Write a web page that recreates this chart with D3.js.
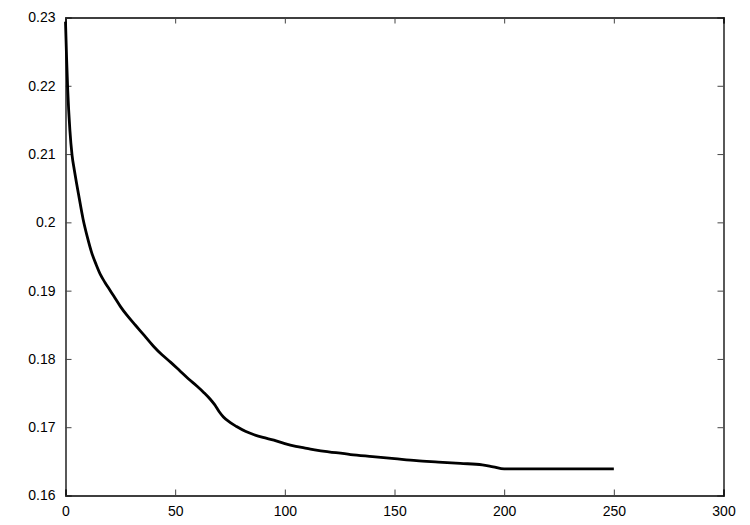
<!DOCTYPE html>
<html>
<head>
<meta charset="utf-8">
<script src="https://cdn.jsdelivr.net/npm/d3@7"></script>
<style>
  body { margin: 0; background: #fff; }
  text { font-family: "Liberation Sans", Arial, sans-serif; font-size: 14px; fill: #000; }
</style>
</head>
<body>
<svg id="chart" width="750" height="525"></svg>
<script>
// data
const xs = [0, 0.5, 1, 2, 3, 4, 5, 6, 8, 10, 12, 14, 16, 18, 20, 22, 25, 28, 32, 36,
            40, 44, 48, 52, 56, 60, 63, 66, 68, 70, 72, 75, 78, 82, 86, 90, 95, 100,
            105, 110, 115, 120, 130, 140, 150, 160, 170, 180, 190, 195, 200, 205,
            210, 220, 230, 240, 250]
const ys = [0.2294, 0.2240, 0.2195, 0.2135, 0.2098, 0.2077, 0.2058, 0.2040, 0.2005,
            0.1978, 0.1955, 0.1938, 0.1923, 0.1912, 0.1902, 0.1892, 0.1877, 0.1864,
            0.1849, 0.1834, 0.1819, 0.1806, 0.1795, 0.1783, 0.1771, 0.1760, 0.1751,
            0.1741, 0.1733, 0.1723, 0.1715, 0.1707, 0.1701, 0.1694, 0.1689, 0.1685,
            0.1681, 0.1676, 0.1672, 0.1669, 0.1666, 0.1664, 0.1660, 0.1657, 0.1654,
            0.1651, 0.1649, 0.1647, 0.1645, 0.1642, 0.1639, 0.1639, 0.1639, 0.1639,
            0.1639, 0.1639, 0.1639]
const xTicks = [0, 50, 100, 150, 200, 250, 300]
const yTicks = [0.16, 0.17, 0.18, 0.19, 0.2, 0.21, 0.22, 0.23]

const MARGINS = { top: 17.5, left: 65.5, right: 26.5, bottom: 29.5 }
const width = 750 - MARGINS.left - MARGINS.right
const height = 525 - MARGINS.top - MARGINS.bottom

const x = d3.scaleLinear().domain([0, 300]).range([0, width])
const y = d3.scaleLinear().domain([0.16, 0.23]).range([height, 0])

const svg = d3.select('#chart')
const g = svg.append('g').attr('transform', 'translate(' + [MARGINS.left, MARGINS.top] + ')')

// mirrored inward ticks on all four sides
const TICK = 6
const xFmt = d3.format('d')
const yFmt = (d) => d3.format('.2f')(d).replace(/0$/, '')

g.append('g').attr('transform', 'translate(0,' + height + ')')
  .call(d3.axisBottom(x).tickValues(xTicks).tickSize(-TICK).tickPadding(11).tickFormat(xFmt))
g.append('g')
  .call(d3.axisTop(x).tickValues(xTicks).tickSize(-TICK).tickFormat(''))
g.append('g')
  .call(d3.axisLeft(y).tickValues(yTicks).tickSize(-TICK).tickPadding(10).tickFormat(yFmt))
g.append('g').attr('transform', 'translate(' + width + ',0)')
  .call(d3.axisRight(y).tickValues(yTicks).tickSize(-TICK).tickFormat(''))

g.selectAll('.domain').attr('stroke', '#000').attr('stroke-width', 1.3)
g.selectAll('.tick line').attr('stroke', '#444')
g.selectAll('.tick text').attr('font-family', '"Liberation Sans", Arial, sans-serif').attr('font-size', 14).attr('fill', '#000')

// the curve
const line = d3.line()
  .x((d, i) => x(xs[i]))
  .y((d) => y(d))
  .curve(d3.curveMonotoneX)

g.append('path')
  .datum(ys)
  .attr('fill', 'none')
  .attr('stroke', '#000')
  .attr('stroke-width', 2.8)
  .attr('stroke-linejoin', 'round')
  .attr('d', line)
</script>
</body>
</html>
